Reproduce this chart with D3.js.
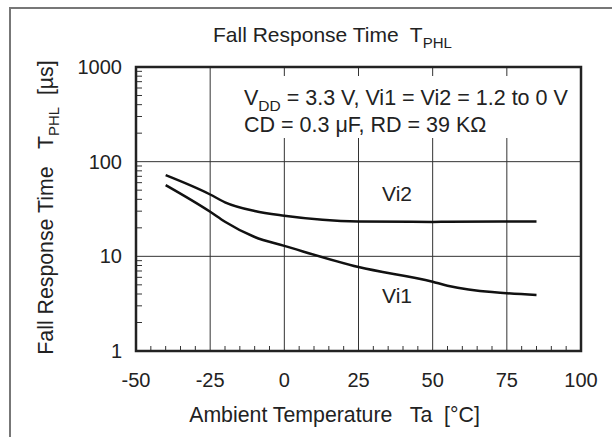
<!DOCTYPE html>
<html><head><meta charset="utf-8">
<script src="https://cdn.jsdelivr.net/npm/d3@7"></script>
<style>body{margin:0;background:#fff}svg{display:block}text{font-family:"Liberation Sans",Arial,sans-serif;fill:#222}</style>
</head><body>
<svg id="c" width="612" height="437"></svg>
<script>
const temps = [-40, -25, -20, -10, 0, 25, 50, 55, 85];
const vi2 = [72, 45, 37.2, 30.1, 26.9, 23.4, 23.1, 23.2, 23.4];
const vi1 = [56.6, 29.6, 23.2, 16.0, 12.9, 7.7, 5.4, 4.9, 3.9];
const xTicks = [-50, -25, 0, 25, 50, 75, 100];
const yTicks = [1, 10, 100, 1000];

const svg = d3.select("#c");
const L = 136, R = 581, T = 67, B = 351;
const x = d3.scaleLinear().domain([-50, 100]).range([L, R]);
const y = d3.scaleLog().domain([1, 1000]).range([B, T]);

// outer frame (cropped box)
svg.append("path").attr("d", "M10,437 V8 H612").attr("fill", "none").attr("stroke", "#777").attr("stroke-width", 2);

// grid
const g = svg.append("g");
g.selectAll(".vx").data(xTicks.slice(1, -1)).join("line")
  .attr("x1", d => x(d)).attr("x2", d => x(d)).attr("y1", T).attr("y2", B)
  .attr("stroke", "#333").attr("stroke-width", 1);
g.selectAll(".hy").data(yTicks.slice(1, -1)).join("line")
  .attr("x1", L).attr("x2", R).attr("y1", d => y(d)).attr("y2", d => y(d))
  .attr("stroke", "#333").attr("stroke-width", 1);

// minor ticks
const yMinor = [];
[1, 10, 100].forEach(dec => { for (let k = 2; k <= 9; k++) yMinor.push(dec * k); });
g.selectAll(".my").data(yMinor).join("line")
  .attr("x1", L).attr("x2", L + 6).attr("y1", d => y(d)).attr("y2", d => y(d))
  .attr("stroke", "#333").attr("stroke-width", 1);
const xMinor = d3.range(-45, 100, 5).filter(v => v % 25 !== 0);
g.selectAll(".mx").data(xMinor).join("line")
  .attr("x1", d => x(d)).attr("x2", d => x(d)).attr("y1", B).attr("y2", B - 5)
  .attr("stroke", "#333").attr("stroke-width", 1);

// annotation background box
svg.append("rect").attr("x", 240).attr("y", 76).attr("width", 336).attr("height", 62).attr("fill", "#fff");

// plot border
svg.append("rect").attr("x", L).attr("y", T).attr("width", R - L).attr("height", B - T)
  .attr("fill", "none").attr("stroke", "#222").attr("stroke-width", 2.5);

// curves
const line = d3.line().x((d, i) => x(temps[i])).y(d => y(d)).curve(d3.curveMonotoneX);
[vi2, vi1].forEach(s => svg.append("path").attr("d", line(s)).attr("fill", "none")
  .attr("stroke", "#111").attr("stroke-width", 2.5));

// tick labels
svg.selectAll(".xl").data(xTicks).join("text")
  .attr("x", d => x(d)).attr("y", 387).attr("text-anchor", "middle")
  .attr("font-size", 20).text(d => d);
svg.selectAll(".yl").data(yTicks).join("text")
  .attr("x", 122).attr("y", d => y(d) + 7).attr("text-anchor", "end")
  .attr("font-size", 20).text(d => d);

// title
const t = svg.append("text").attr("x", 213).attr("y", 42).attr("font-size", 21).style("white-space", "pre");
t.append("tspan").text("Fall Response Time  T");
t.append("tspan").attr("font-size", 15).attr("dy", 6).text("PHL");

// x label
svg.append("text").attr("x", 334.5).attr("y", 422).attr("text-anchor", "middle").attr("font-size", 21.3)
  .style("white-space", "pre").text("Ambient Temperature   Ta  [°C]");

// y label
const yl = svg.append("text").attr("transform", "translate(53,207.5) rotate(-90)")
  .attr("text-anchor", "middle").attr("font-size", 21.3).style("white-space", "pre");
yl.append("tspan").text("Fall Response Time   T");
yl.append("tspan").attr("font-size", 15).attr("dy", 6).text("PHL");
yl.append("tspan").attr("dy", -6).text("  [µs]");

// annotation
const a1 = svg.append("text").attr("x", 244).attr("y", 105).attr("font-size", 21.5).style("white-space", "pre");
a1.append("tspan").text("V");
a1.append("tspan").attr("font-size", 15.5).attr("dy", 6).text("DD");
a1.append("tspan").attr("dy", -6).text(" = 3.3 V, Vi1 = Vi2 = 1.2 to 0 V");
svg.append("text").attr("x", 244).attr("y", 132).attr("font-size", 21.5).text("CD = 0.3 μF, RD = 39 KΩ");

// series labels
svg.append("text").attr("x", 382).attr("y", 201).attr("font-size", 21).text("Vi2");
svg.append("text").attr("x", 382).attr("y", 303).attr("font-size", 21).text("Vi1");
</script>
</body></html>
